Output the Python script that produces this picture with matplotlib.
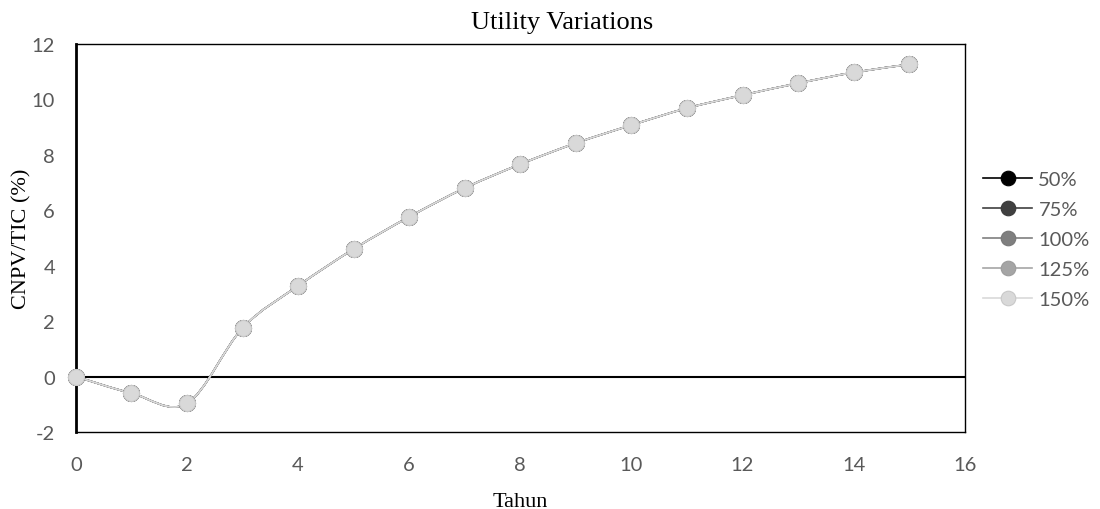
import numpy as np
import matplotlib.pyplot as plt
from matplotlib.path import Path
from matplotlib.patches import PathPatch

plt.rcParams['axes.unicode_minus'] = False

# data (all utility variations overlap)
tahun = [0, 1, 2, 3, 4, 5, 6, 7, 8, 9, 10, 11, 12, 13, 14, 15]
cnpv = [0.0, -0.6, -0.97, 1.75, 3.27, 4.6, 5.76, 6.8, 7.66, 8.42,
        9.07, 9.68, 10.15, 10.58, 10.97, 11.26]
variasi = ['50%', '75%', '100%', '125%', '150%']
warna = ['#000000', '#404040', '#7f7f7f', '#a5a5a5', '#d9d9d9']
tepi = ['#000000', '#3a3a3a', '#777777', '#9c9c9c', '#c8c8c8']


def smooth_path(x, y, t=1/6):
    # Excel style smoothed line: bezier segments through every point
    x = np.asarray(x, float)
    y = np.asarray(y, float)
    verts = [(x[0], y[0])]
    codes = [Path.MOVETO]
    n = len(x)
    for i in range(n - 1):
        x0, y0 = (x[i-1], y[i-1]) if i > 0 else (x[i], y[i])
        x3, y3 = (x[i+2], y[i+2]) if i + 2 < n else (x[i+1], y[i+1])
        c1 = (x[i] + (x[i+1] - x0) * t, y[i] + (y[i+1] - y0) * t)
        c2 = (x[i+1] - (x3 - x[i]) * t, y[i+1] - (y3 - y[i]) * t)
        verts += [c1, c2, (x[i+1], y[i+1])]
        codes += [Path.CURVE4] * 3
    return Path(verts, codes)


fig = plt.figure(figsize=(11, 5.1), dpi=100)
ax = fig.add_axes([0.069, 0.151, 0.808, 0.761])

for lab, c, e in zip(variasi, warna, tepi):
    ax.add_patch(PathPatch(smooth_path(tahun, cnpv), fill=False, edgecolor=c, lw=1.2, zorder=2))
    ax.plot(tahun, cnpv, ls='none', marker='o', ms=11.5, color=c, mec=e, mew=0.8,
            zorder=3, clip_on=False)
    # legend proxy
    ax.plot([], [], color=c, lw=1.2, marker='o', ms=10.5, mec=e, mew=0.8, label=lab)

ax.axhline(0, color='black', lw=1.5, zorder=1)

ax.set_xlim(0, 16)
ax.set_ylim(-2, 12)
ax.set_xticks(range(0, 17, 2))
ax.set_yticks(range(-2, 13, 2))
ax.tick_params(length=0, labelsize=14.5, labelcolor='#595959')
ax.tick_params(axis='y', pad=15)
ax.tick_params(axis='x', pad=17)
for t in ax.get_xticklabels() + ax.get_yticklabels():
    t.set_family('Lato')
for s in ax.spines.values():
    s.set_color('black')
    s.set_linewidth(1)
ax.spines['left'].set_linewidth(2)

fig.text(0.511, 0.955, 'Utility Variations', family='Liberation Serif', fontsize=19,
         ha='center', va='center')
ax.set_xlabel('Tahun', family='Liberation Serif', fontsize=16)
ax.set_ylabel('CNPV/TIC (%)', family='Liberation Serif', fontsize=16)
ax.xaxis.set_label_coords(0.5, -0.155)
ax.yaxis.set_label_coords(-0.0495, 0.5)

leg = ax.legend(loc='upper left', bbox_to_anchor=(983 / 1100, 1 - 172 / 510),
                bbox_transform=fig.transFigure, frameon=False, borderpad=0, borderaxespad=0,
                prop={'family': 'Lato', 'size': 14.5}, labelspacing=0.64,
                handlelength=2.45, handletextpad=0.3)
for t in leg.get_texts():
    t.set_color('#595959')

plt.savefig('out.png')
